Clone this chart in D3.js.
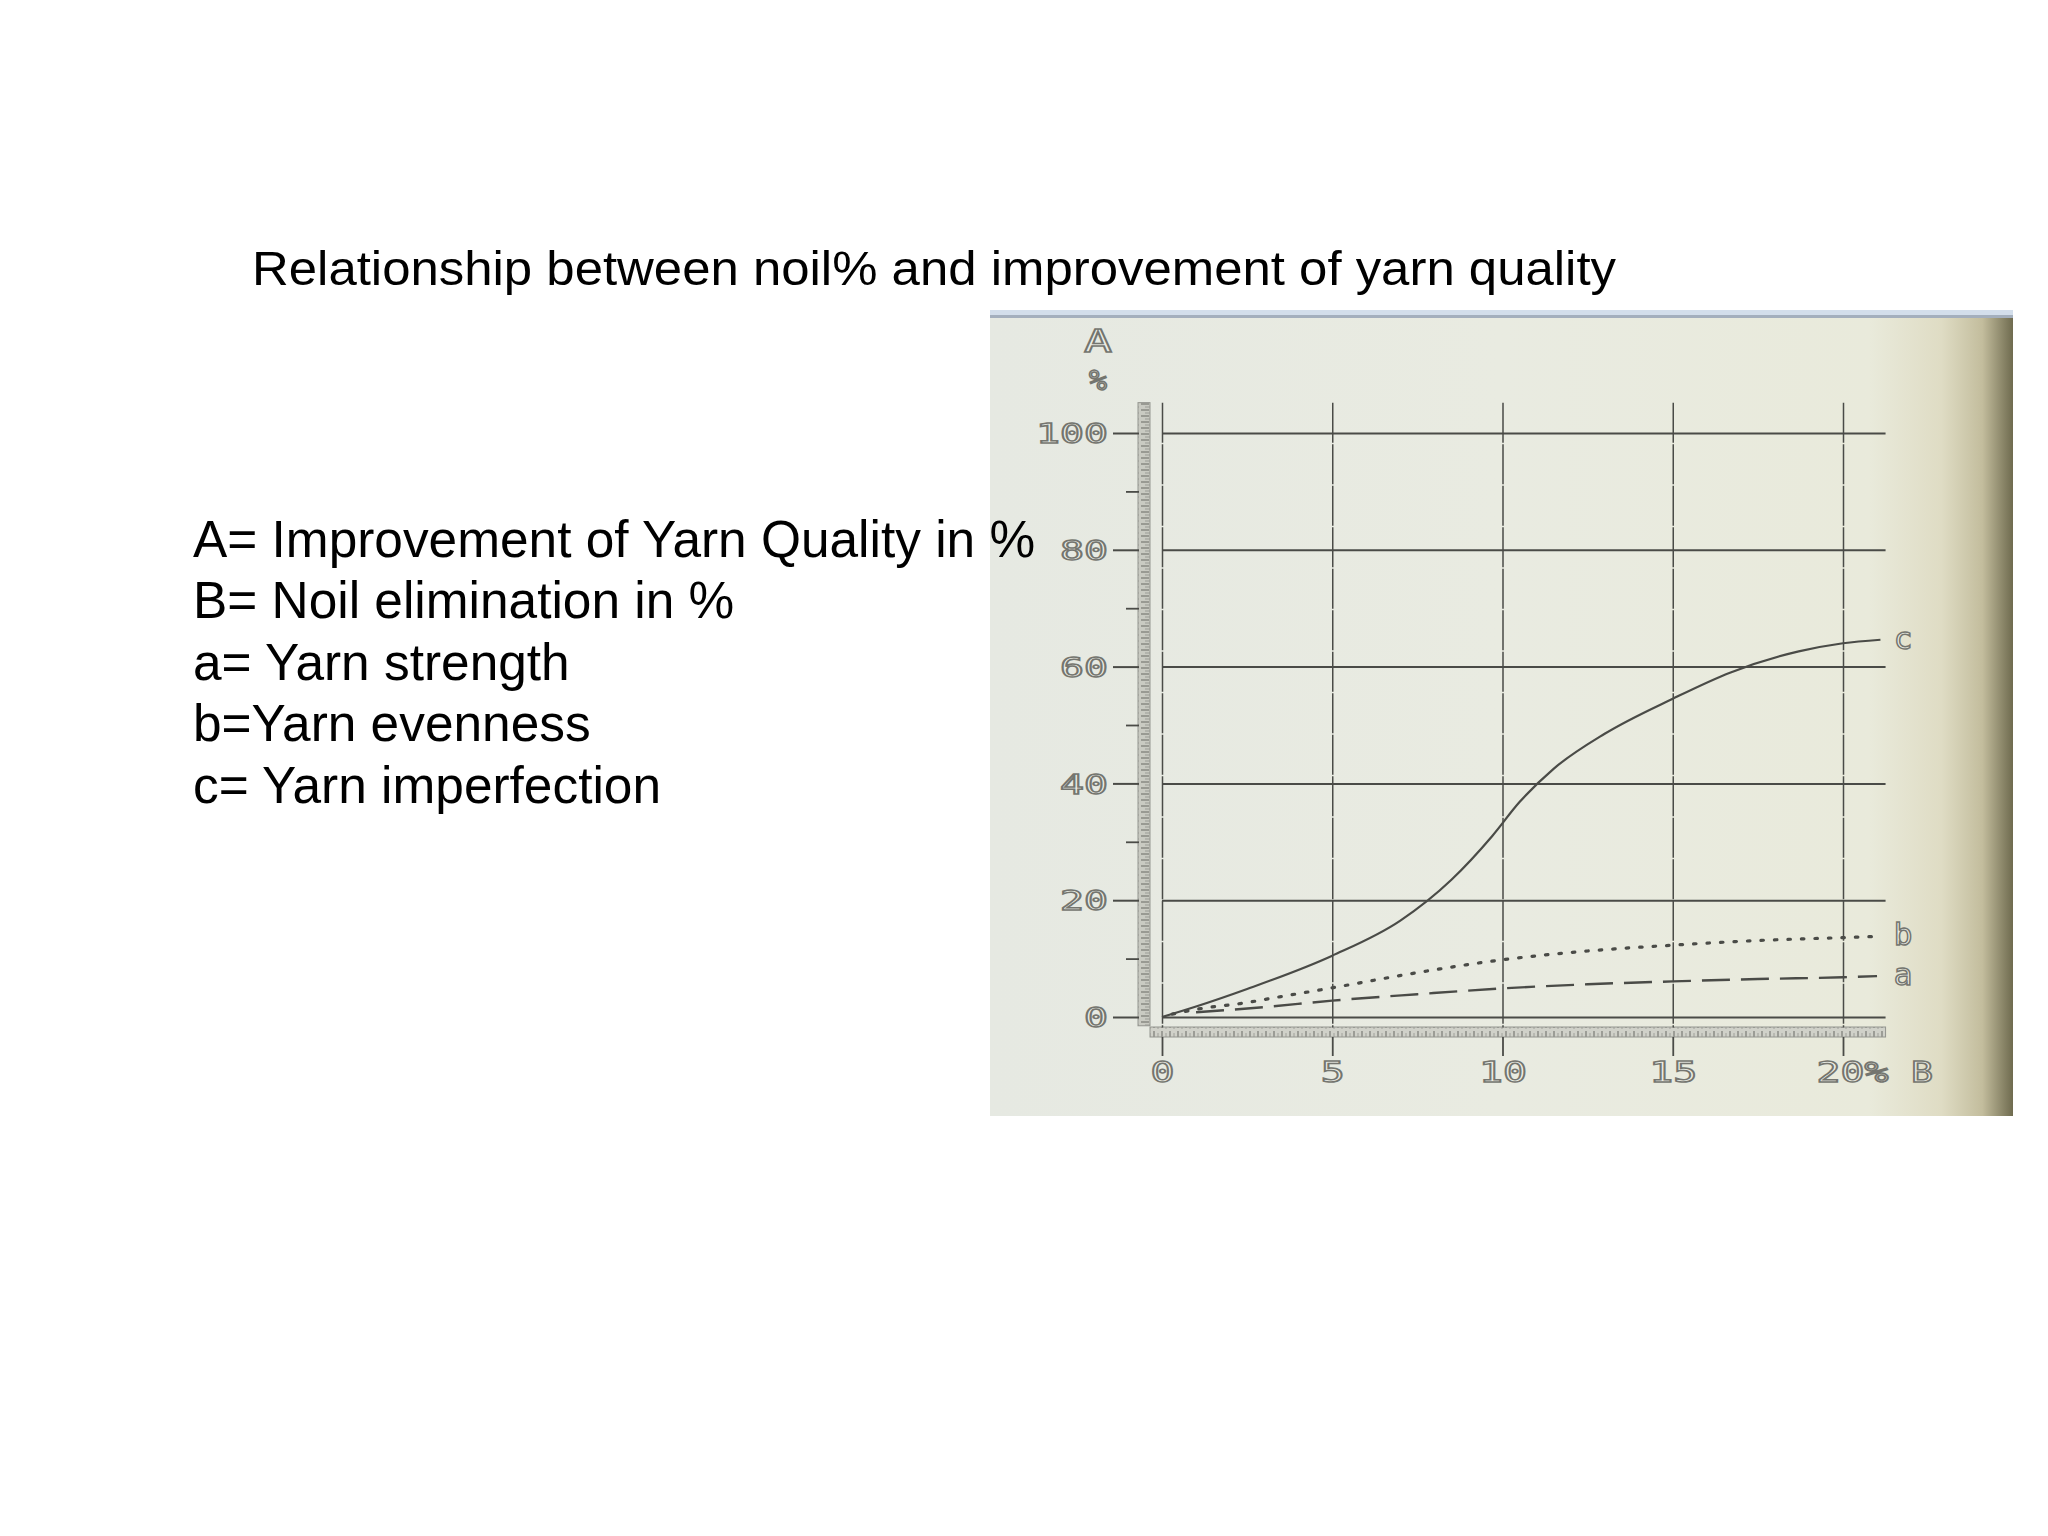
<!DOCTYPE html>
<html>
<head>
<meta charset="utf-8">
<script src="https://cdn.jsdelivr.net/npm/d3@7"></script>
<style>
  html, body { margin: 0; padding: 0; background: #ffffff; }
  svg { display: block; }
</style>
</head>
<body>
<svg id="chart" width="2048" height="1536"></svg>
<script>
// ---------------- data ----------------
const titleText = "Relationship between noil% and improvement of yarn quality";
const legendLines = [
  "A= Improvement of Yarn Quality in %",
  "B= Noil elimination in %",
  "a= Yarn strength",
  "b=Yarn evenness",
  "c= Yarn imperfection"
];
const yTicks = [0, 20, 40, 60, 80, 100];
const yMinorTicks = [10, 30, 50, 70, 90];
const xTicks = [0, 5, 10, 15, 20];
const xTickLabels = ["0", "5", "10", "15", "20%"];
const xAxisTitle = "B";
const yAxisTitle = "A";
const yAxisUnit = "%";

// curve c : yarn imperfection
const cX = [0, 1, 2.5, 5, 7, 8.5, 9.7, 10.5, 11.5, 13, 15, 16.7, 18.7, 20, 21.1];
const cY = [0, 1.8, 4.8, 10.5, 16.5, 23.5, 31, 36.8, 42.5, 48.5, 54.5, 59, 62.6, 64, 64.6];
// curve b : yarn evenness
const bX = [0.3, 1.2, 2.3, 3.5, 5, 7.5, 10, 12.5, 15, 17.5, 20, 21];
const bY = [0.5, 1.5, 2.3, 3.5, 5.0, 7.6, 9.8, 11.3, 12.3, 13.1, 13.6, 13.8];
// curve a : yarn strength
const aX = [1, 3, 5, 7.5, 10, 12.5, 15, 17.5, 20, 21];
const aY = [0.8, 1.7, 2.8, 3.9, 4.9, 5.6, 6.1, 6.5, 6.8, 7.0];
const curveNames = ["c", "b", "a"];

// ---------------- drawing ----------------
const svg = d3.select("#chart");
const defs = svg.append("defs");

// paper gradient of the scanned figure
const g1 = defs.append("linearGradient").attr("id", "paper").attr("x1", 0).attr("x2", 1).attr("y1", 0).attr("y2", 0);
[["0%", "#e6e9e2"], ["50%", "#e9ebe1"], ["86%", "#e9eadb"], ["93%", "#dfdcc4"], ["97%", "#c3bd9d"], ["100%", "#6f6b4f"]]
  .forEach(([o, c]) => g1.append("stop").attr("offset", o).attr("stop-color", c));

// hatch patterns for axis bars
const pat = defs.append("pattern").attr("id", "hatch").attr("patternUnits", "userSpaceOnUse")
  .attr("width", 12).attr("height", 6);
pat.append("rect").attr("width", 12).attr("height", 6).attr("fill", "#c9cac2");
pat.append("line").attr("x1", 1).attr("x2", 9).attr("y1", 2).attr("y2", 2).attr("stroke", "#85867f").attr("stroke-width", 1.4);
pat.append("line").attr("x1", 5).attr("x2", 11).attr("y1", 5).attr("y2", 5).attr("stroke", "#9c9d97").attr("stroke-width", 1);
const pat2 = defs.append("pattern").attr("id", "hatch2").attr("patternUnits", "userSpaceOnUse")
  .attr("width", 8).attr("height", 10);
pat2.append("rect").attr("width", 8).attr("height", 10).attr("fill", "#d0d1c9");
pat2.append("line").attr("x1", 2).attr("x2", 2).attr("y1", 1).attr("y2", 8).attr("stroke", "#868781").attr("stroke-width", 1.4);
pat2.append("line").attr("x1", 6).attr("x2", 6).attr("y1", 3).attr("y2", 9).attr("stroke", "#a0a19b").attr("stroke-width", 1);

// scanned image frame
svg.append("rect").attr("x", 990).attr("y", 310).attr("width", 1023).attr("height", 806).attr("fill", "url(#paper)");
svg.append("rect").attr("x", 990).attr("y", 310).attr("width", 1023).attr("height", 5).attr("fill", "#d3deeb");
svg.append("rect").attr("x", 990).attr("y", 315).attr("width", 1023).attr("height", 3).attr("fill", "#a4afbd");

// scales
const x = d3.scaleLinear().domain([0, 20]).range([1162, 1843]);
const y = d3.scaleLinear().domain([0, 100]).range([1017, 433]);

const ink = "#4a4b47";
const typeFont = "'DejaVu Sans Mono', 'Liberation Mono', monospace";

// hatched bars
svg.append("rect").attr("x", 1138).attr("y", y(105.2)).attr("width", 12).attr("height", y(-1.5) - y(105.2))
  .attr("fill", "url(#hatch)").attr("stroke", "#94958f").attr("stroke-width", 1);
svg.append("rect").attr("x", 1150).attr("y", 1027).attr("width", x(21.25) - 1150).attr("height", 10)
  .attr("fill", "url(#hatch2)").attr("stroke", "#94958f").attr("stroke-width", 1);

// horizontal grid
svg.append("g").attr("transform", `translate(${x(0)},0)`)
  .call(d3.axisRight(y).tickValues(yTicks).tickSize(x(21.25) - x(0)).tickFormat(""))
  .call(g => g.select(".domain").remove())
  .call(g => g.selectAll("line").attr("stroke", ink).attr("stroke-width", 2));

// vertical grid (including the axis line at 0)
svg.append("g").attr("transform", `translate(0,${y(105.2)})`)
  .call(d3.axisBottom(x).tickValues(xTicks).tickSize(y(-1.8) - y(105.2)).tickFormat(""))
  .call(g => g.select(".domain").remove())
  .call(g => g.selectAll("line").attr("stroke", ink).attr("stroke-width", 1.5).attr("stroke-dasharray", "40,1.5"));

// y axis (major ticks + labels)
const yAx = svg.append("g").attr("transform", "translate(1139,0)")
  .call(d3.axisLeft(y).tickValues(yTicks).tickSize(26).tickPadding(5))
  .call(g => g.select(".domain").remove());
yAx.selectAll("line").attr("stroke", ink).attr("stroke-width", 2);
yAx.selectAll("text")
  .attr("font-family", typeFont).attr("font-size", 27)
  .attr("fill", "#eceee6").attr("stroke", "#74756f").attr("stroke-width", 1.5)
  .attr("dy", "0.36em")
  .attr("textLength", d => String(d).length * 24).attr("lengthAdjust", "spacingAndGlyphs");

// y minor ticks
svg.append("g").attr("transform", "translate(1139,0)")
  .call(d3.axisLeft(y).tickValues(yMinorTicks).tickSize(13).tickFormat(""))
  .call(g => g.select(".domain").remove())
  .call(g => g.selectAll("line").attr("stroke", ink).attr("stroke-width", 1.8));

// x axis ticks + labels
const xAx = svg.append("g").attr("transform", "translate(0,1037)")
  .call(d3.axisBottom(x).tickValues(xTicks).tickSize(19).tickFormat((d, i) => xTickLabels[i]))
  .call(g => g.select(".domain").remove());
xAx.selectAll("line").attr("stroke", ink).attr("stroke-width", 1.8);
xAx.selectAll("text")
  .attr("font-family", typeFont).attr("font-size", 29)
  .attr("fill", "#eceee6").attr("stroke", "#74756f").attr("stroke-width", 1.5)
  .attr("y", 45).attr("dy", 0)
  .attr("dx", (d, i) => i === xTicks.length - 1 ? 9 : 0)
  .attr("textLength", (d, i) => xTickLabels[i].length * 24).attr("lengthAdjust", "spacingAndGlyphs");

// axis titles
const outline = sel => sel.attr("font-family", typeFont)
  .attr("fill", "#eceee6").attr("stroke", "#74756f").attr("stroke-width", 1.5);
svg.append("text").text(xAxisTitle).attr("x", 1922).attr("y", 1082).attr("text-anchor", "middle")
  .attr("font-size", 29).attr("textLength", 22).attr("lengthAdjust", "spacingAndGlyphs").call(outline);
svg.append("text").text(yAxisTitle).attr("x", 1098).attr("y", 352).attr("text-anchor", "middle")
  .attr("font-size", 32).attr("textLength", 28).attr("lengthAdjust", "spacingAndGlyphs").call(outline);
svg.append("text").text(yAxisUnit).attr("x", 1098).attr("y", 390).attr("text-anchor", "middle")
  .attr("font-size", 28).attr("textLength", 18).attr("lengthAdjust", "spacingAndGlyphs").call(outline);

// curves
const curves = [
  { name: curveNames[0], xs: cX, ys: cY, dash: null, width: 2.2, cap: "butt" },
  { name: curveNames[1], xs: bX, ys: bY, dash: "2.5,11", width: 3.2, cap: "round" },
  { name: curveNames[2], xs: aX, ys: aY, dash: "28,11", width: 2.4, cap: "butt" }
];
const line = d3.line().x(d => x(d[0])).y(d => y(d[1])).curve(d3.curveMonotoneX);
curves.forEach(c => {
  const pts = c.xs.map((v, i) => [v, c.ys[i]]);
  svg.append("path").attr("d", line(pts)).attr("fill", "none")
    .attr("stroke", ink).attr("stroke-width", c.width)
    .attr("stroke-linecap", c.cap)
    .attr("stroke-dasharray", c.dash);
  const last = pts[pts.length - 1];
  svg.append("text").text(c.name).attr("x", 1903).attr("y", y(last[1]) + 9)
    .attr("text-anchor", "middle").attr("font-size", 31).call(outline);
});

// slide texts
svg.append("text").text(titleText).attr("x", 252).attr("y", 285)
  .attr("font-family", "'Liberation Sans', Arial, sans-serif").attr("font-size", 48).attr("fill", "#000")
  .attr("textLength", 1364).attr("lengthAdjust", "spacingAndGlyphs");
svg.append("g").selectAll("text").data(legendLines).join("text")
  .attr("x", 193).attr("y", (d, i) => 557 + i * 61.4)
  .attr("font-family", "'Liberation Sans', Arial, sans-serif").attr("font-size", 51.4).attr("fill", "#000")
  .text(d => d);
</script>
</body>
</html>
